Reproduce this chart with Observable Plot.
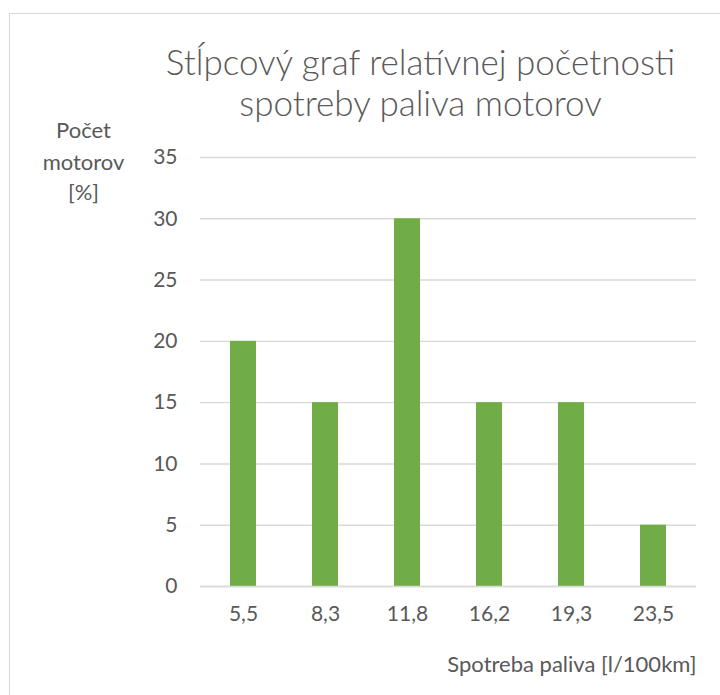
<!DOCTYPE html>
<html>
<head>
<meta charset="utf-8">
<script src="https://cdn.jsdelivr.net/npm/d3@7"></script>
<script src="https://cdn.jsdelivr.net/npm/@observablehq/plot@0.6"></script>
<style>
  html, body { margin: 0; padding: 0; background: #fff; }
  #wrap { position: relative; width: 720px; height: 695px; overflow: hidden; }
  #border { position: absolute; left: 9px; top: 13px; width: 760px; height: 760px; border: 1.5px solid #d9d9d9; box-sizing: border-box; }
  #chart { position: absolute; left: 0; top: 0; }
</style>
</head>
<body>
<div id="wrap"><div id="border"></div><div id="chart"></div></div>
<script>
const categories = ["5,5", "8,3", "11,8", "16,2", "19,3", "23,5"];
const values = [20, 15, 30, 15, 15, 5];
const yTicks = [0, 5, 10, 15, 20, 25, 30, 35];
const titleLines = ["Stĺpcový graf relatívnej početnosti", "spotreby paliva motorov"];
const yLabelLines = ["Počet", "motorov", "[%]"];
const xLabel = "Spotreba paliva [l/100km]";

const data = categories.map((c, i) => ({cat: c, val: values[i]}));
const font = "Lato, 'Open Sans', sans-serif";
const textColor = "#595959";

const titleDy = [-94, -53];
const yLabDy = [-27, 5, 35];

const chart = Plot.plot({
  width: 720,
  height: 695,
  marginLeft: 200,
  marginRight: 24,
  marginTop: 157,
  marginBottom: 109,
  style: {fontFamily: font, fontSize: "21px", color: textColor, background: "transparent", overflow: "visible"},
  x: {domain: categories, paddingInner: 0.685, paddingOuter: 0.3425, label: null},
  y: {domain: [0, 35], label: null},
  marks: [
    Plot.gridY(yTicks, {stroke: "#d9d9d9", strokeOpacity: 1, strokeWidth: 1.4}),
    Plot.barY(data, {x: "cat", y: "val", fill: "#70AD47"}),
    Plot.ruleY([0], {stroke: "#d9d9d9", strokeWidth: 1.4}),
    Plot.axisY(yTicks, {tickSize: 0, tickPadding: 23, fill: textColor, fontSize: 21, label: null}),
    Plot.axisX({tickSize: 0, tickPadding: 20, fill: textColor, fontSize: 21, label: null}),
    ...titleLines.map((t, i) => Plot.text([t], {frameAnchor: "top", dx: -28, dy: titleDy[i], fontSize: 35, fontWeight: 300, fill: textColor, textAnchor: "middle", lineAnchor: "middle"})),
    ...yLabelLines.map((t, i) => Plot.text([t], {frameAnchor: "top-left", dx: -117, dy: yLabDy[i], fontSize: 22, fill: textColor, textAnchor: "middle", lineAnchor: "middle"})),
    Plot.text([xLabel], {frameAnchor: "bottom-right", dx: 0, dy: 78, fontSize: 22, fill: textColor, textAnchor: "end", lineAnchor: "middle"})
  ]
});
document.getElementById("chart").append(chart);
</script>
</body>
</html>
